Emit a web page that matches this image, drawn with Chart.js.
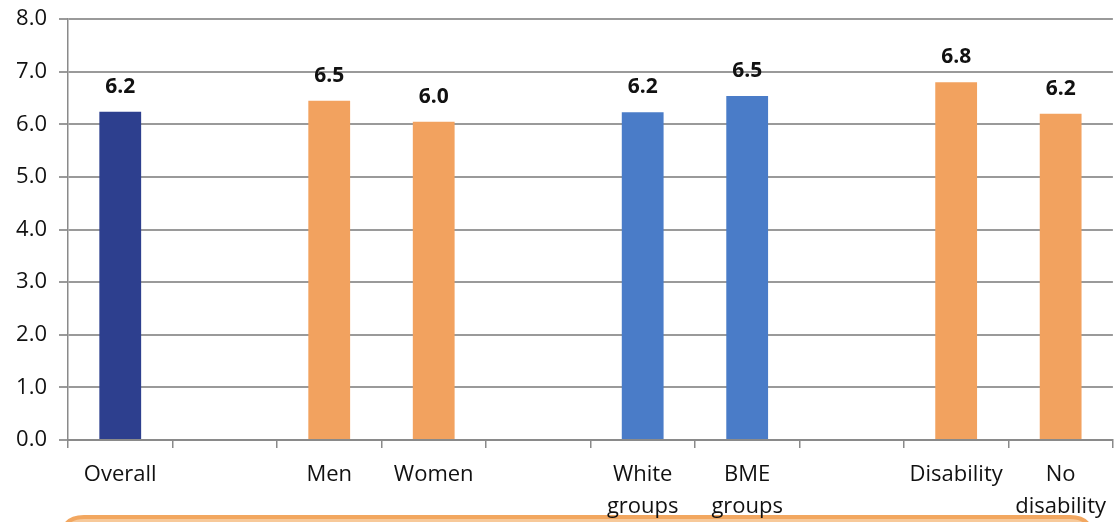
<!DOCTYPE html>
<html>
<head>
<meta charset="utf-8">
<script src="https://cdn.jsdelivr.net/npm/chart.js@4"></script>
<style>
  html, body { margin: 0; padding: 0; background: #ffffff; }
  #wrap { width: 1117px; height: 522px; position: relative; }
</style>
</head>
<body>
<div id="wrap"><canvas id="c" width="1117" height="522"></canvas></div>
<script>
// ---- data ----
const categories = [
  "Overall", "", "Men", "Women", "", ["White", "groups"], ["BME", "groups"], "", "Disability", ["No", "disability"]
];
const values = [6.24, null, 6.45, 6.05, null, 6.23, 6.54, null, 6.8, 6.2];
const valueLabels = ["6.2", "", "6.5", "6.0", "", "6.2", "6.5", "", "6.8", "6.2"];
const barColors = ["#2d3f8e", null, "#f2a25f", "#f2a25f", null, "#4a7cc8", "#4a7cc8", null, "#f2a25f", "#f2a25f"];
const yTicks = [0, 1, 2, 3, 4, 5, 6, 7, 8];

const FONT = "'Open Sans', 'Noto Sans', sans-serif";

const valueLabelPlugin = {
  id: 'valueLabels',
  afterDatasetsDraw(chart) {
    const ctx = chart.ctx;
    const meta = chart.getDatasetMeta(0);
    ctx.save();
    ctx.font = "bold 21px " + FONT;
    ctx.fillStyle = "#111111";
    ctx.textAlign = "center";
    ctx.textBaseline = "alphabetic";
    meta.data.forEach((bar, i) => {
      if (values[i] == null) return;
      ctx.fillText(valueLabels[i], bar.x, bar.y - 19);
    });
    ctx.restore();
  }
};

const bottomBoxPlugin = {
  id: 'bottomBox',
  beforeDraw(chart) {
    const ctx = chart.ctx;
    ctx.save();
    const x = 62, y = 517, w = 1030, h = 60, r = 22;
    ctx.beginPath();
    ctx.moveTo(x + r, y);
    ctx.lineTo(x + w - r, y);
    ctx.quadraticCurveTo(x + w, y, x + w, y + r);
    ctx.lineTo(x + w, y + h);
    ctx.lineTo(x, y + h);
    ctx.lineTo(x, y + r);
    ctx.quadraticCurveTo(x, y, x + r, y);
    ctx.closePath();
    ctx.fillStyle = "#f7c99a";
    ctx.fill();
    ctx.lineWidth = 4;
    ctx.strokeStyle = "#f2a760";
    ctx.stroke();
    ctx.restore();
  }
};

new Chart(document.getElementById('c'), {
  type: 'bar',
  data: {
    labels: categories,
    datasets: [{
      data: values,
      backgroundColor: barColors,
      barPercentage: 0.4,
      categoryPercentage: 1.0,
      borderWidth: 0
    }]
  },
  options: {
    responsive: false,
    animation: false,
    layout: { padding: { top: 0, right: 0, left: 0, bottom: 0 } },
    plugins: { legend: { display: false }, tooltip: { enabled: false } },
    scales: {
      x: {
        grid: {
          display: true,
          offset: true,
          drawOnChartArea: false,
          drawTicks: true,
          tickLength: 8,
          color: "#8a8a8a",
          lineWidth: 1.5
        },
        border: { display: true, color: "#8a8a8a", width: 2 },
        ticks: {
          color: "#111111",
          font: { family: FONT, size: 22, lineHeight: 1.45 },
          padding: 11,
          maxRotation: 0,
          autoSkip: false
        },
        afterFit(scale) { scale.height = 82; }
      },
      y: {
        min: 0,
        max: 8,
        afterBuildTicks(scale) { scale.ticks = yTicks.map(v => ({ value: v })); },
        grid: {
          color: "#9a9a9a",
          lineWidth: 2,
          drawTicks: true,
          tickLength: 9
        },
        border: { display: true, color: "#8a8a8a", width: 1.5 },
        ticks: {
          color: "#111111",
          font: { family: FONT, size: 22, lineHeight: 0.65 },
          padding: 12,
          callback: (v) => Number(v).toFixed(1)
        },
        afterFit(scale) { scale.width = 68; }
      }
    }
  },
  plugins: [valueLabelPlugin, bottomBoxPlugin]
});
</script>
</body>
</html>
